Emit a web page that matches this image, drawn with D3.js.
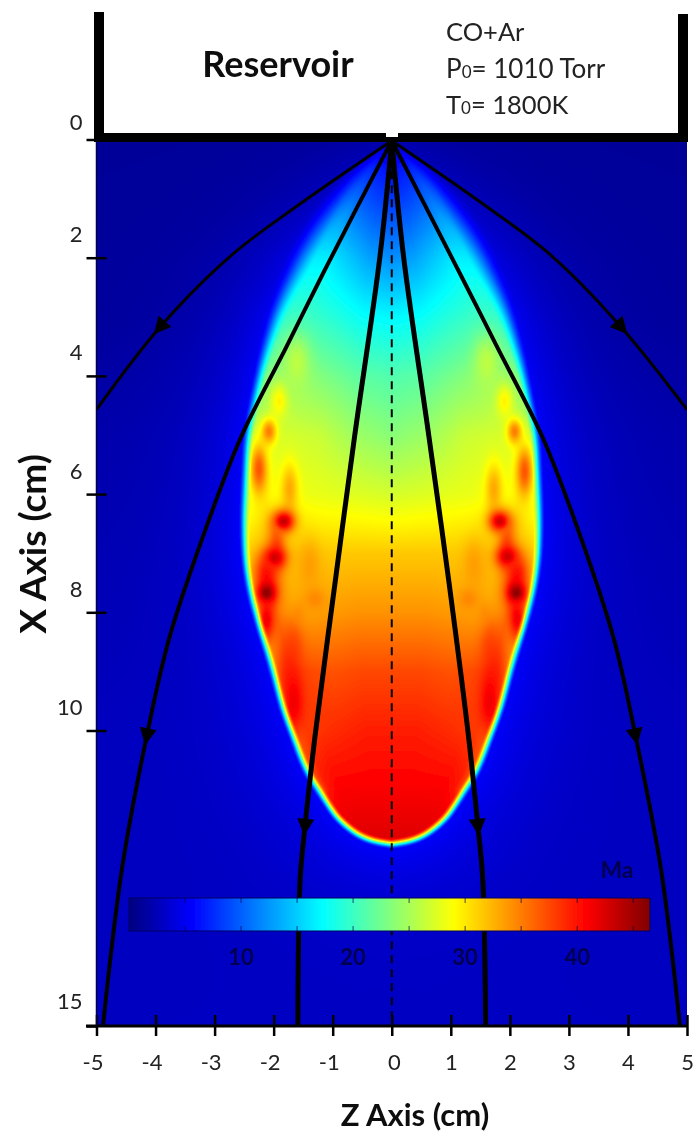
<!DOCTYPE html>
<html><head><meta charset="utf-8">
<script src="https://cdn.jsdelivr.net/npm/d3@7/dist/d3.min.js"></script>
<style>html,body{margin:0;padding:0;background:#fff}svg{display:block}text{font-family:Lato,"Open Sans",sans-serif}</style>
</head><body><svg id="c" width="694" height="1134"></svg>
<script>
// ---- Mach-number field ----
const edgeRows = [0,0.56,1.13,1.69,2.26,2.82,3.38,3.95,4.5,5.02,5.64,6.2,6.77,7.33,7.9,8.46,9,9.6,10.1,10.66,11,11.33,11.5,11.69,11.8,11.88,11.92];
const edgeHalf = [0.03,0.64,1.05,1.4,1.66,1.91,2.08,2.23,2.34,2.45,2.47,2.5,2.5,2.46,2.34,2.17,2.0,1.86,1.66,1.47,1.24,1.03,0.9,0.68,0.5,0.28,0];
const edgeSoftRows = [0,0.5,1,2,3,4,5,8,12];
const edgeSoft = [0.03,0.2,0.3,0.25,0.18,0.13,0.11,0.1,0.1];
const haloRows = [0,1,2,3,15];
const haloPeak = [2,3.4,5,5.6,5.6];
const farRows = [0,3,5,10,15];
const farMachs = [1.1,1.2,1.8,2.7,2.9];
const uCols = [0,0.25,0.5,0.7,0.85,1,1.4];
const innerRows = [0,0.5,1,2,3,4,5,6,7,8,9,10,11,12];
const innerMach = [
 [3,3,3,3,3,3,3],
 [6,6.5,7,8,8,8,5],
 [8,8.5,9.5,11,11.5,10,5],
 [12,13,15,16.5,16.5,15,8],
 [17,17.5,19,20,20,19,12],
 [21,21.5,23,24,24,23,16],
 [23.5,24.5,26.5,27,27,26,20],
 [27,27.5,28,28.5,29,27,25],
 [31.5,31.5,31.5,32,33,31,28],
 [34,34,33.5,33,35,32,30],
 [37.5,37.5,37,37.5,38,34,30],
 [39.5,39.5,39,38.5,38,36,30],
 [41,41,41,41,40,36,30],
 [42.5,42.5,42.5,42,40,36,30]
];
// hot cells: z, x, Mach, spread z, spread x
const spotsLeft = [
 [-1.61,3.77,26,.15,.3],[-1.91,4.43,29.5,.1,.2],[-2.08,4.94,35,.09,.15],[-2.25,5.58,37,.1,.3],[-1.73,5.92,33,.1,.3],
 [-1.83,6.46,43.5,.13,.13],[-1.95,6.82,37,.1,.25],[-1.98,7.08,43,.13,.13],[-2.12,7.33,40,.14,.2],[-2.12,7.67,46,.12,.14],[-2.12,8.12,41.5,.1,.25],
 [-1.39,7.22,33.5,.13,.3],[-1.3,7.78,34.5,.12,.13],[-1.57,8.03,34,.1,.15],[-1.66,8.63,37.5,.12,.3],[-1.75,9.05,39,.12,.35],[-1.66,9.53,41.5,.11,.35]
];
const spotsRight = [
 [1.61,3.77,26,.15,.3],[1.91,4.43,29.5,.1,.2],[2.08,4.94,35,.09,.15],[2.25,5.62,37,.1,.3],[1.73,5.92,33,.1,.3],
 [1.83,6.46,43,.13,.13],[1.95,6.8,37,.1,.25],[1.96,7.06,43,.13,.13],[2.12,7.33,40,.14,.2],[2.11,7.67,46,.12,.14],[2.12,8.1,41.5,.1,.25],
 [1.39,7.22,33.5,.13,.3],[1.3,7.78,34.5,.12,.13],[1.57,8.03,34,.1,.15],[1.66,8.63,37.5,.12,.3],[1.75,9.05,39,.12,.35],[1.66,9.53,41.5,.11,.35]
];
// ---- colour scale ----
const jetMach = [0,5.6,17.3,29,40.8,46.5];
const jetColors = ["#00007f","#0000ff","#00ffff","#ffff00","#ff0000","#800000"];
// ---- streamlines [z,x] ----
const lineOuterL = [[0,0.02],[-1.61,1.13],[-2.74,1.98],[-3.93,3.18],[-5,4.57]];
const lineOuterR = [[0,0.02],[1.6,1.13],[2.72,1.98],[3.89,3.18],[5,4.57]];
const lineMidL = [[0,0.02],[-1.13,2.2],[-1.78,3.5],[-2.55,5.03],[-3.05,6.31],[-3.76,8.41],[-4.15,10.1],[-4.57,12.35],[-4.89,15]];
const lineMidR = [[0,0.02],[1.12,2.2],[1.78,3.5],[2.55,5.03],[3.05,6.31],[3.75,8.41],[4.13,10.1],[4.56,12.35],[4.88,15]];
const lineInL = [[0,0.02],[-0.2,1.98],[-0.63,5.03],[-0.96,7.5],[-1.3,10.1],[-1.47,11.63],[-1.55,12.5],[-1.59,15]];
const lineInR = [[0,0.02],[0.2,1.98],[0.63,5.03],[0.97,7.5],[1.3,10.1],[1.46,11.63],[1.54,12.5],[1.59,15]];
const streamWidths = [3,3,4,4,5,5];
const arrowAt = [[-3.93,3.18],[3.89,3.18],[-4.15,10.1],[4.13,10.1],[-1.47,11.63],[1.46,11.63]];
// ---- labels ----
const zTicks = [-5,-4,-3,-2,-1,0,1,2,3,4,5];
const xTicks = [0,2,4,6,8,10,15];
const barTicks = [5,10,15,20,25,30,35,40,45];
const barLabels = [10,20,30,40];

const svg = d3.select("#c");
const zS = d3.scaleLinear([-5,5],[96.5,687]);
const xS = d3.scaleLinear([0,15],[139.5,1026]);
const jet = d3.scaleLinear(jetMach,jetColors).clamp(true);

// ---- field ----
const smoothZ = d3.interpolateBasis(edgeHalf), smoothX = d3.interpolateBasis(edgeRows);
const outline = d3.range(0,91).map(i=>[smoothZ(i/90),smoothX(i/90)]);
const edge = d3.scaleLinear(outline.map(p=>p[1]),outline.map(p=>p[0])).clamp(true);
const soft = d3.scaleLinear(edgeSoftRows,edgeSoft).clamp(true);
const halo = d3.scaleLinear(haloRows,haloPeak).clamp(true);
const farS = d3.scaleLinear(farRows,farMachs).clamp(true);
function segDist(px,py){
  let best=1e9;
  for(let i=0;i<outline.length-1;i++){
    const [ax,ay]=outline[i],[bx,by]=outline[i+1];
    const dx=bx-ax,dy=by-ay,l=dx*dx+dy*dy;
    let t=((px-ax)*dx+(py-ay)*dy)/l; t=t<0?0:t>1?1:t;
    const ex=px-ax-t*dx,ey=py-ay-t*dy,q=ex*ex+ey*ey;
    if(q<best)best=q;
  }
  return Math.sqrt(best);
}
function inner(x,u){
  const ri=Math.min(d3.bisectRight(innerRows,x)-1,innerRows.length-2);
  const rt=Math.min(1,(x-innerRows[ri])/(innerRows[ri+1]-innerRows[ri]));
  const uu=Math.min(u,uCols[uCols.length-1]);
  const ci=Math.min(d3.bisectRight(uCols,uu)-1,uCols.length-2);
  const ct=(uu-uCols[ci])/(uCols[ci+1]-uCols[ci]);
  const a=innerMach[ri],b=innerMach[ri+1];
  const top=a[ci]+(a[ci+1]-a[ci])*ct, bot=b[ci]+(b[ci+1]-b[ci])*ct;
  return top+(bot-top)*rt;
}
const spots = spotsLeft.concat(spotsRight);
const x0=Math.round(zS(-5)), x1=Math.round(zS(5)), y0=Math.round(xS(0)), y1=Math.round(xS(15));
const W=x1-x0, H=y1-y0;
const cv=document.createElement("canvas"); cv.width=W; cv.height=H;
const ctx=cv.getContext("2d"); const img=ctx.createImageData(W,H);
const lut=d3.range(0,1001).map(i=>d3.rgb(jet(i*46.5/1000)));
for(let j=0;j<H;j++){
  const x=xS.invert(y0+j+.5), e=edge(x), w=soft(x), hp=halo(x), fm=farS(x);
  const eu = x>11 ? 1.25 : Math.max(e,.05);
  for(let i=0;i<W;i++){
    const z=zS.invert(x0+i+.5), az=Math.abs(z);
    const inside = x<11.92 && az<e;
    const d = (inside?-1:1)*segDist(az,x);
    const far = fm+(hp-fm)*Math.exp(-Math.max(d,0)/0.8);
    let v=far;
    if(d<w){
      let base=inner(x,az/eu);
      for(const s of spots){
        const a=(z-s[0])/s[3],b=(x-s[1])/s[4],g=a*a+b*b;
        if(g<12){ const k=Math.exp(-g/2); if(s[2]>base) base+=(s[2]-base)*k; }
      }
      const t=Math.max(0,Math.min(1,(w-d)/(2*w)));
      v=far+(base-far)*t*t*(3-2*t);
    }
    const c=lut[Math.max(0,Math.min(1000,Math.round(v/46.5*1000)))];
    const o=(j*W+i)*4; img.data[o]=c.r;img.data[o+1]=c.g;img.data[o+2]=c.b;img.data[o+3]=255;
  }
}
ctx.putImageData(img,0,0);
const blur=svg.append("defs").append("filter").attr("id","soft").attr("x","-5%").attr("y","-5%").attr("width","110%").attr("height","110%");
blur.append("feGaussianBlur").attr("stdDeviation",0.6);
const root=svg.append("g");
root.append("image").attr("x",x0).attr("y",y0).attr("width",W).attr("height",H).attr("href",cv.toDataURL());

// ---- centre line and streamlines ----
const line=d3.line().x(d=>zS(d[0])).y(d=>xS(d[1])).curve(d3.curveCatmullRom.alpha(0.5));
const streams=[lineOuterL,lineOuterR,lineMidL,lineMidR,lineInL,lineInR];
root.append("line").attr("x1",zS(0)).attr("x2",zS(0)).attr("y1",xS(0.3)).attr("y2",xS(15))
  .attr("stroke","#000").attr("stroke-width",2).attr("stroke-dasharray","8 6");
root.append("defs").append("clipPath").attr("id","plot").append("rect").attr("x",x0).attr("y",y0).attr("width",W).attr("height",H);
root.append("g").attr("clip-path","url(#plot)").selectAll("path").data(streams).join("path")
  .attr("d",line).attr("fill","none").attr("stroke","#000").attr("stroke-width",(d,i)=>streamWidths[i]);
arrowAt.forEach((p,i)=>{
  const pts=streams[i]; const k=pts.findIndex(q=>q[0]===p[0]&&q[1]===p[1]);
  const a=pts[k-1], b=pts[Math.min(k+1,pts.length-1)];
  const ang=Math.atan2(xS(b[1])-xS(a[1]),zS(b[0])-zS(a[0]))*180/Math.PI;
  root.append("path").attr("d","M9,0L-8,-8.5L-8,8.5Z").attr("fill","#000")
    .attr("transform",`translate(${zS(p[0])},${xS(p[1])}) rotate(${ang})`);
});

// ---- reservoir walls ----
const floorY=133, floorH=9;
root.append("rect").attr("x",94).attr("y",12).attr("width",10).attr("height",130).attr("fill","#000");
root.append("rect").attr("x",678).attr("y",14).attr("width",10).attr("height",128).attr("fill","#000");
root.append("rect").attr("x",94).attr("y",floorY).attr("width",292).attr("height",floorH).attr("fill","#000");
root.append("rect").attr("x",398).attr("y",floorY).attr("width",290).attr("height",floorH).attr("fill","#000");
root.append("rect").attr("x",386).attr("y",137).attr("width",12).attr("height",5).attr("fill","#000");

// ---- axes ----
const bottom=root.append("g").attr("transform",`translate(0,${xS(15)})`).call(d3.axisBottom(zS).tickValues(zTicks).tickSize(10).tickFormat(d=>String(d)));
bottom.select(".domain").remove();
bottom.selectAll(".tick line").attr("y1",-11).attr("y2",10).attr("stroke","#000").attr("stroke-width",2.5);
bottom.selectAll(".tick text").attr("y",37).attr("dy","0.32em").attr("font-size",22).attr("fill","#222").attr("dx",d=>d<0?-4:d===0?2:0)
  .style("font-family","Lato");
root.append("line").attr("x1",86).attr("x2",687).attr("y1",xS(15)).attr("y2",xS(15)).attr("stroke","#000").attr("stroke-width",3);
root.append("line").attr("x1",96.5).attr("x2",96.5).attr("y1",xS(0)).attr("y2",xS(15)).attr("stroke","#000050").attr("stroke-width",1.5);
const left=root.append("g").attr("transform",`translate(${zS(-5)},0)`).call(d3.axisLeft(xS).tickValues(xTicks).tickSize(10).tickFormat(d=>String(d)));
left.select(".domain").remove();
left.selectAll(".tick line").attr("x1",-10).attr("x2",d=>(d===0||d===15)?0:10).attr("stroke","#000").attr("stroke-width",2.5);
left.selectAll(".tick text").attr("x",-14).attr("dy",d=>d===0?-10:d===15?-18:-16).attr("font-size",22).attr("fill","#222").attr("text-anchor","end").style("font-family","Lato");

// ---- colour bar ----
const barS=d3.scaleLinear([0,46.5],[129,650]);
const grad=svg.select("defs").append("linearGradient").attr("id","jet").attr("gradientUnits","userSpaceOnUse")
  .attr("x1",barS(0)).attr("x2",barS(46.5)).attr("y1",0).attr("y2",0);
grad.selectAll("stop").data(jetMach).join("stop").attr("offset",d=>d/46.5).attr("stop-color",d=>jet(d));
root.append("rect").attr("x",barS(0)).attr("y",898).attr("width",barS(46.5)-barS(0)).attr("height",33).attr("fill","url(#jet)")
  .attr("stroke","#000060").attr("stroke-width",1);
root.selectAll(".bt").data(barTicks).join("path").attr("class","bt")
  .attr("d",d=>`M${barS(d)},898v5M${barS(d)},931v-5`).attr("stroke","#000050").attr("stroke-width",1).attr("opacity",.7);
root.selectAll(".bl").data(barLabels).join("text").attr("class","bl").attr("x",d=>barS(d)).attr("y",965)
  .attr("text-anchor","middle").attr("font-size",22).attr("font-weight",700).attr("fill","#000050").text(d=>d);
root.append("text").attr("x",617).attr("y",878).attr("text-anchor","middle").attr("font-size",23).attr("font-weight",700).attr("fill","#000050").text("Ma");

// ---- titles ----
root.append("text").attr("x",278).attr("y",77).attr("text-anchor","middle").attr("font-size",36).attr("font-weight",700).attr("fill","#111").text("Reservoir");
root.append("text").attr("x",446).attr("y",41).attr("font-size",25.5).attr("fill","#222").text("CO+Ar");
const p=root.append("text").attr("x",446).attr("y",78).attr("font-size",26).attr("fill","#222");
p.append("tspan").text("P"); p.append("tspan").attr("font-size",17).text("0"); p.append("tspan").text("= 1010 Torr");
const tt=root.append("text").attr("x",446).attr("y",114).attr("font-size",25.5).attr("fill","#222");
tt.append("tspan").text("T"); tt.append("tspan").attr("font-size",17).text("0"); tt.append("tspan").text("= 1800K");
root.append("text").attr("transform","translate(46,544) rotate(-90)").attr("text-anchor","middle").attr("font-size",37).attr("font-weight",700).attr("fill","#111").text("X Axis  (cm)");
root.append("text").attr("x",415).attr("y",1126).attr("text-anchor","middle").attr("font-size",31).attr("font-weight",700).attr("fill","#111").text("Z Axis (cm)");
root.attr("filter","url(#soft)");
</script></body></html>
